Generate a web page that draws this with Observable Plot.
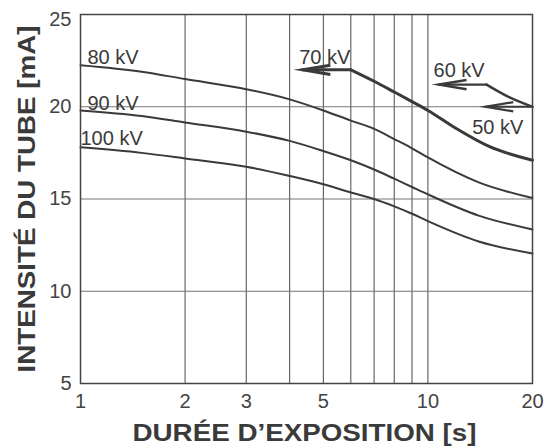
<!DOCTYPE html>
<html><head><meta charset="utf-8">
<script src="https://cdn.jsdelivr.net/npm/d3@7"></script>
<script src="https://cdn.jsdelivr.net/npm/@observablehq/plot@0.6"></script>
<style>
body{margin:0;background:#fff;}
</style></head><body><div id="chart"></div>
<script>
// exposure durations (s) and tube currents (mA)
const durations = [1, 1.5, 2, 3, 4, 5, 6, 7, 8, 9, 10, 14, 20];
const kv80  = [22.25, 21.9, 21.5, 20.95, 20.4, 19.8, 19.25, 18.8, 18.25, 17.75, 17.25, 15.9, 15.05];
const kv90  = [19.8, 19.5, 19.15, 18.65, 18.15, 17.6, 17.1, 16.6, 16.1, 15.65, 15.25, 14.1, 13.35];
const kv100 = [17.8, 17.5, 17.2, 16.75, 16.25, 15.8, 15.35, 15.0, 14.6, 14.2, 13.8, 12.7, 12.05];
const kv70x = [4.36, 6, 7, 8, 9, 10, 12, 15, 20];
const kv70y = [22, 22, 21.38, 20.8, 20.28, 19.8, 18.85, 17.85, 17.1];
const kv60x = [10.75, 14.75, 17, 20];
const kv60y = [21.2, 21.2, 20.55, 20.0];
const kv50x = [14.65, 20];
const kv50y = [20, 20];
const curveLabels = ["80 kV", "90 kV", "100 kV", "70 kV", "60 kV", "50 kV"];
const labelX = [1.047, 1.047, 1.0, 4.26, 10.38, 13.41];
const labelY = [22.29, 19.83, 17.95, 22.33, 21.6, 18.53];
const xTicks = [1, 2, 3, 5, 7, 10, 20];
const xGrid = [2, 3, 4, 5, 6, 7, 8, 9, 10];
const yTicks = [5, 10, 15, 20];
const yTop = [25];
const yGrid = [10, 15, 20];
const xTitle = "DURÉE D’EXPOSITION [s]";
const yTitle = "INTENSITÉ DU TUBE [mA]";

const ink = "#3a3a3a";
const rows = [];
durations.forEach((t, i) => {
  rows.push({kv: "80", t, mA: kv80[i]});
  rows.push({kv: "90", t, mA: kv90[i]});
  rows.push({kv: "100", t, mA: kv100[i]});
});
const pts = (xs, ys) => xs.map((t, i) => ({t, mA: ys[i]}));
const s70 = pts(kv70x, kv70y), s60 = pts(kv60x, kv60y), s50 = pts(kv50x, kv50y);
const shafts = [
  {w: 3, d: s70.slice(0, 2)},
  {w: 2.4, d: s60.slice(0, 2)},
  {w: 2.2, d: s50}
];
const tips = [
  {t: s70[0].t, mA: s70[0].mA, w: 3},
  {t: s60[0].t, mA: s60[0].mA, w: 2.4},
  {t: s50[0].t, mA: s50[0].mA, w: 2.2}
];
const harpoon = {draw(ctx) { ctx.moveTo(27.7, -4.6); ctx.lineTo(0, 0); ctx.lineTo(27.7, 4.6); }};

const chart = Plot.plot({
  width: 544, height: 448,
  marginLeft: 80, marginRight: 12, marginTop: 14, marginBottom: 65,
  style: {fontFamily: "'Liberation Sans', Arial, sans-serif", background: "#fff", color: ink},
  x: {type: "log", domain: [1, 20]},
  y: {domain: [5, 25]},
  marks: [
    Plot.ruleX(xGrid, {stroke: "#4a4a4a", strokeWidth: 1}),
    Plot.ruleY(yGrid, {stroke: "#777", strokeWidth: 1}),
    Plot.line(rows, {x: "t", y: "mA", z: "kv", curve: "monotone-x", stroke: ink, strokeWidth: 2}),
    ...shafts.map(s => Plot.line(s.d, {x: "t", y: "mA", stroke: ink, strokeWidth: s.w})),
    Plot.line(s70.slice(1), {x: "t", y: "mA", curve: "monotone-x", stroke: ink, strokeWidth: 3}),
    Plot.line(s60.slice(1), {x: "t", y: "mA", curve: "monotone-x", stroke: ink, strokeWidth: 2.4}),
    Plot.dot(tips, {x: "t", y: "mA", symbol: harpoon, fill: "none", stroke: ink, strokeWidth: d => d.w, strokeMiterlimit: 10}),
    Plot.text(curveLabels, {x: (d, i) => labelX[i], y: (d, i) => labelY[i], text: d => d, textAnchor: "start", lineAnchor: "bottom", fontSize: 20, fill: ink}),
    Plot.axisX(xTicks, {tickSize: 0, tickPadding: 10, fontSize: 20, tickFormat: d => String(d), label: null, color: "#444"}),
    Plot.axisY(yTicks, {tickSize: 0, tickPadding: 9, fontSize: 20, label: null, color: "#444"}),
    Plot.axisY(yTop, {tickSize: 0, tickPadding: 9, fontSize: 20, label: null, color: "#444", dy: 5}),
    Plot.text([xTitle], {frameAnchor: "bottom", textAnchor: "middle", dx: -2, dy: 57, lineAnchor: "bottom", fontSize: 24, fontWeight: "bold", fill: ink}),
    Plot.text([yTitle], {frameAnchor: "left", textAnchor: "middle", rotate: -90, dx: -46, lineAnchor: "bottom", fontSize: 24, fontWeight: "bold", fill: ink}),
    Plot.frame({stroke: "#444", strokeWidth: 1.5})
  ]
});
d3.select(chart).selectAll("text")
  .filter(function() { return this.textContent === xTitle; })
  .attr("textLength", 344).attr("lengthAdjust", "spacingAndGlyphs");
d3.select(chart).selectAll("text")
  .filter(function() { return this.textContent === yTitle; })
  .attr("textLength", 347).attr("lengthAdjust", "spacingAndGlyphs");
document.getElementById("chart").appendChild(chart);
</script></body></html>
